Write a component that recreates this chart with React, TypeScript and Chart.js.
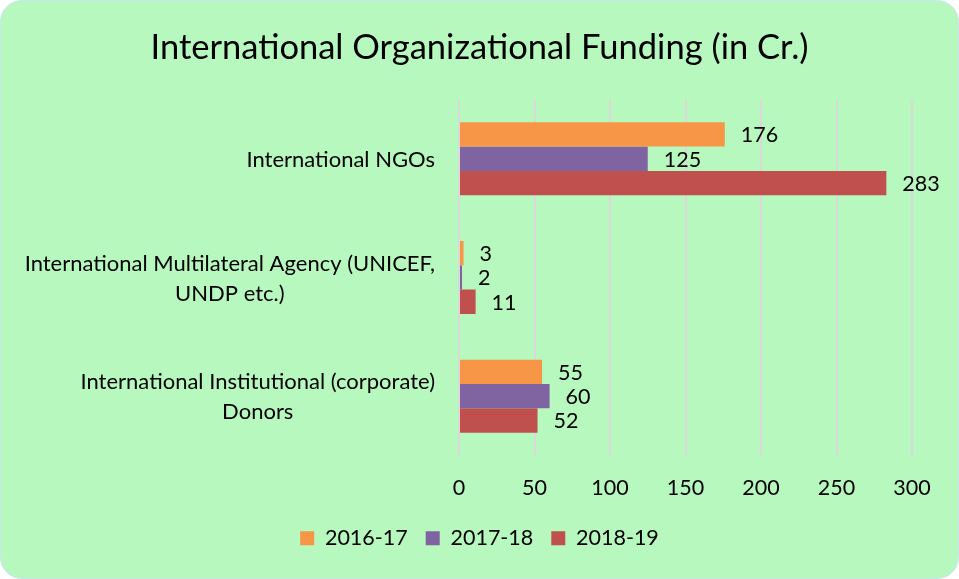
import React, { useEffect, useRef } from "react";
import { Chart, registerables } from "chart.js";

Chart.register(...registerables);

const categories: string[][] = [
  ["International NGOs"],
  ["International Multilateral Agency (UNICEF,", "UNDP etc.)"],
  ["International Institutional (corporate)", "Donors"],
];
const seriesNames = ["2016-17", "2017-18", "2018-19"];
const values2016 = [176, 3, 55];
const values2017 = [125, 2, 60];
const values2018 = [283, 11, 52];
const xTicks = [0, 50, 100, 150, 200, 250, 300];
const colors = ["#F79646", "#8064A2", "#C0504D"];

const FONT = "Lato, 'Noto Sans', sans-serif";
const LABEL_SIZE = 21.5;

const valueLabels = {
  id: "valueLabels",
  afterDatasetsDraw(chart: any) {
    const ctx = chart.ctx;
    ctx.save();
    ctx.font = `${LABEL_SIZE}px ${FONT}`;
    ctx.fillStyle = "#000";
    ctx.textAlign = "left";
    ctx.textBaseline = "middle";
    chart.data.datasets.forEach((ds: any, di: number) => {
      const meta = chart.getDatasetMeta(di);
      meta.data.forEach((el: any, i: number) => {
        ctx.fillText(String(ds.data[i]), el.x + 16, el.y + 1);
      });
    });
    ctx.restore();
  },
};

const categoryLabels = {
  id: "categoryLabels",
  afterDraw(chart: any) {
    const ctx = chart.ctx;
    const y = chart.scales.y;
    ctx.save();
    ctx.font = `22px ${FONT}`;
    ctx.fillStyle = "#000";
    ctx.textAlign = "center";
    ctx.textBaseline = "middle";
    const right = chart.chartArea.left - 24;
    categories.forEach((lines, i) => {
      const cy = y.getPixelForValue(i);
      const w = Math.max(...lines.map((l) => ctx.measureText(l).width));
      const cx = right - w / 2;
      lines.forEach((l, j) => {
        ctx.fillText(l, cx, cy + 1 + (j - (lines.length - 1) / 2) * 30);
      });
    });
    ctx.restore();
  },
};

export default function App() {
  const ref = useRef<HTMLCanvasElement>(null);
  useEffect(() => {
    if (!ref.current) return;
    const chart = new Chart(ref.current, {
      type: "bar",
      data: {
        labels: categories.map((c) => c.join(" ")),
        datasets: [
          { label: seriesNames[0], data: values2016, backgroundColor: colors[0] },
          { label: seriesNames[1], data: values2017, backgroundColor: colors[1] },
          { label: seriesNames[2], data: values2018, backgroundColor: colors[2] },
        ],
      },
      options: {
        indexAxis: "y",
        animation: false,
        responsive: false,
        maintainAspectRatio: false,
        layout: { padding: { left: 0, right: 0, top: 0, bottom: 20 } },
        datasets: { bar: { categoryPercentage: 0.615, barPercentage: 1.0, borderWidth: 0 } },
        scales: {
          x: {
            min: 0,
            max: 300,
            afterBuildTicks: (scale: any) => {
              scale.ticks = xTicks.map((v) => ({ value: v }));
            },
            afterFit: (scale: any) => {
              scale.height = 54;
            },
            grid: { color: "#d9d9d9", lineWidth: 2, drawTicks: false },
            border: { display: false },
            ticks: { font: { family: FONT, size: LABEL_SIZE }, color: "#000", padding: 20 },
          },
          y: {
            position: "left",
            grid: { display: false },
            border: { display: false },
            ticks: { display: false },
            afterFit: (scale: any) => {
              scale.width = 459;
            },
          },
          y2: {
            type: "category",
            position: "right",
            grid: { display: false },
            border: { display: false },
            ticks: { display: false },
            afterFit: (scale: any) => {
              scale.width = 47;
            },
          },
        },
        plugins: {
          title: {
            display: true,
            text: "International Organizational Funding (in Cr.)",
            font: { family: FONT, size: 34.5, weight: "normal" },
            color: "#000",
            padding: { top: 27, bottom: 31 },
          },
          legend: {
            position: "bottom",
            labels: {
              font: { family: FONT, size: LABEL_SIZE },
              color: "#000",
              boxWidth: 14,
              boxHeight: 14,
              padding: 18,
            },
          },
          tooltip: { enabled: false },
        },
      },
      plugins: [valueLabels, categoryLabels],
    });
    return () => chart.destroy();
  }, []);
  return (
    <div style={{ position: "absolute", left: 0, top: 0, width: 959, height: 579 }}>
      <div
        style={{
          position: "absolute",
          inset: 0,
          background: "#b7f8bf",
          border: "1px solid #c8e6ee",
          borderRadius: 22,
          boxSizing: "border-box",
        }}
      />
      <canvas ref={ref} width={959} height={579} style={{ position: "absolute", left: 0, top: 0 }} />
    </div>
  );
}
